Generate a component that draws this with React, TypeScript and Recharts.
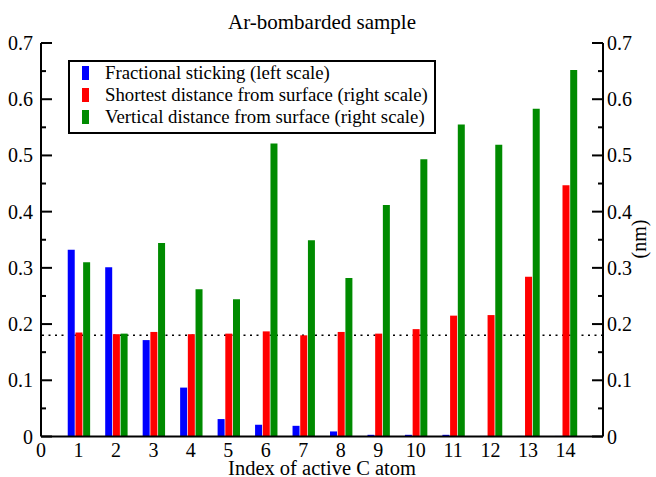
import React from 'react';
import { ComposedChart, Bar, XAxis, YAxis, ReferenceLine, Legend } from 'recharts';

// index of the active C atom (x position of each bar group)
const atomIndex = [1, 2, 3, 4, 5, 6, 7, 8, 9, 10, 11, 12, 13, 14];
// left scale
const sticking = [0.332, 0.301, 0.1715, 0.087, 0.031, 0.021, 0.019, 0.009, 0.003, 0.003, 0.003, 0.001, 0.001, 0.001];
// right scale, nm
const shortestDist = [0.185, 0.182, 0.186, 0.182, 0.183, 0.187, 0.18, 0.186, 0.183, 0.191, 0.215, 0.216, 0.284, 0.447];
const verticalDist = [0.31, 0.183, 0.344, 0.262, 0.244, 0.521, 0.349, 0.282, 0.412, 0.493, 0.555, 0.519, 0.583, 0.652];

const xTicks = [0, 1, 2, 3, 4, 5, 6, 7, 8, 9, 10, 11, 12, 13, 14];
const topTicks = [1, 2, 3, 4, 5, 6, 7, 8, 9, 10, 11, 12, 13, 14];
const yTicks = [0, 0.05, 0.1, 0.15, 0.2, 0.25, 0.3, 0.35, 0.4, 0.45, 0.5, 0.55, 0.6, 0.65, 0.7];
const cutoff = 0.18;

const data = atomIndex.map((x, i) => ({
  x,
  sticking: sticking[i],
  shortest: shortestDist[i],
  vertical: verticalDist[i],
}));

const serif = '"Liberation Serif", "Times New Roman", serif';

const isMajor = (v: number) => Math.abs(v * 10 - Math.round(v * 10)) < 1e-6;
const fmt = (v: number) => (v === 0 ? '0' : v.toFixed(1));

const LeftTick = (props: any) => {
  const { x, y, payload } = props;
  const major = isMajor(payload.value);
  return (
    <g>
      <line x1={x + 8} x2={x + 8 + (major ? 11 : 5)} y1={y} y2={y} stroke="#000" strokeWidth={2} />
      {major && (
        <text x={x} y={y} dy="0.35em" textAnchor="end" fontSize={20} fontFamily={serif} fill="#000">
          {fmt(payload.value)}
        </text>
      )}
    </g>
  );
};

const RightTick = (props: any) => {
  const { x, y, payload } = props;
  const major = isMajor(payload.value);
  return (
    <g>
      <line x1={x - 4} x2={x - 4 - (major ? 11 : 5)} y1={y} y2={y} stroke="#000" strokeWidth={2} />
      {major && (
        <text x={x} y={y} dy="0.35em" textAnchor="start" fontSize={20} fontFamily={serif} fill="#000">
          {fmt(payload.value)}
        </text>
      )}
    </g>
  );
};

const TopTick = (props: any) => {
  const { x, y } = props;
  return <line x1={x} x2={x} y1={y} y2={y + 10} stroke="#000" strokeWidth={2} />;
};

const BottomTick = (props: any) => {
  const { x, y, payload } = props;
  return (
    <text x={x} y={y} dy="0.71em" textAnchor="middle" fontSize={20} fontFamily={serif} fill="#000">
      {payload.value}
    </text>
  );
};

const LegendBox = (props: any) => {
  const { payload } = props;
  return (
    <div
      style={{
        border: '2px solid #000',
        background: '#fff',
        padding: '0 0 4px 12px',
        fontFamily: serif,
        fontSize: 18.8,
        lineHeight: '22px',
        boxSizing: 'border-box',
        textAlign: 'left',
      }}
    >
      {(payload || []).map((p: any) => (
        <div key={p.value} style={{ display: 'flex', alignItems: 'center', height: 22 }}>
          <span style={{ display: 'inline-block', width: 7, height: 14, background: p.color, marginRight: 16 }} />
          <span style={{ whiteSpace: 'nowrap' }}>{p.value}</span>
        </div>
      ))}
    </div>
  );
};

const App = () => {
  return (
    <div style={{ position: 'absolute', left: 0, top: 0, background: '#fff' }}>
      <ComposedChart width={656} height={477} data={data} margin={{ top: 43, right: 0, bottom: 0, left: 0 }} barSize={7} barGap={0.7}>
        <text x={322} y={29} textAnchor="middle" fontSize={21} fontFamily={serif} fill="#000">
          Ar-bombarded sample
        </text>
        <text transform="translate(639,239) rotate(-90)" textAnchor="middle" dy="0.35em" fontSize={20} fontFamily={serif} fill="#000">
          (nm)
        </text>
        <XAxis
          xAxisId="bottom"
          dataKey="x"
          type="number"
          domain={[0, 15]}
          ticks={xTicks}
          interval={0}
          height={40.5}
          tickLine={false}
          tickSize={0}
          tickMargin={6.5}
          tick={<BottomTick />}
          axisLine={{ stroke: '#000', strokeWidth: 2 }}
          label={{ value: 'Index of active C atom', position: 'insideBottom', offset: 2, fontSize: 20.5, fontFamily: serif, fill: '#000' }}
        />
        <XAxis
          xAxisId="top"
          orientation="top"
          dataKey="x"
          type="number"
          domain={[0, 15]}
          ticks={topTicks}
          interval={0}
          height={0}
          tickLine={false}
          tickSize={0}
          tickMargin={0}
          tick={<TopTick />}
          axisLine={{ stroke: '#000', strokeWidth: 2 }}
        />
        <YAxis
          yAxisId="left"
          domain={[0, 0.7]}
          ticks={yTicks}
          interval={0}
          width={41}
          tickLine={false}
          tickSize={0}
          tickMargin={8}
          tick={<LeftTick />}
          axisLine={{ stroke: '#000', strokeWidth: 2 }}
        />
        <YAxis
          yAxisId="right"
          orientation="right"
          domain={[0, 0.7]}
          ticks={yTicks}
          interval={0}
          width={53}
          tickLine={false}
          tickSize={0}
          tickMargin={4}
          tick={<RightTick />}
          axisLine={{ stroke: '#000', strokeWidth: 2 }}
        />
        <ReferenceLine
          xAxisId="bottom"
          yAxisId="right"
          y={cutoff}
          stroke="#000"
          strokeWidth={1.5}
          strokeDasharray="2 4.5"
          zIndex={-1}
        />
        <Bar xAxisId="bottom" yAxisId="left" dataKey="sticking" name="Fractional sticking (left scale)" fill="#0000ff" isAnimationActive={false} />
        <Bar xAxisId="bottom" yAxisId="right" dataKey="shortest" name="Shortest distance from surface (right scale)" fill="#ff0000" isAnimationActive={false} />
        <Bar xAxisId="bottom" yAxisId="right" dataKey="vertical" name="Vertical distance from surface (right scale)" fill="#008b00" isAnimationActive={false} />
        <Legend
          layout="horizontal"
          verticalAlign="middle"
          align="center"
          width={368}
          wrapperStyle={{ left: 68, top: 60, width: 368, height: 74 }}
          content={<LegendBox />}
        />
      </ComposedChart>
    </div>
  );
};

export default App;
